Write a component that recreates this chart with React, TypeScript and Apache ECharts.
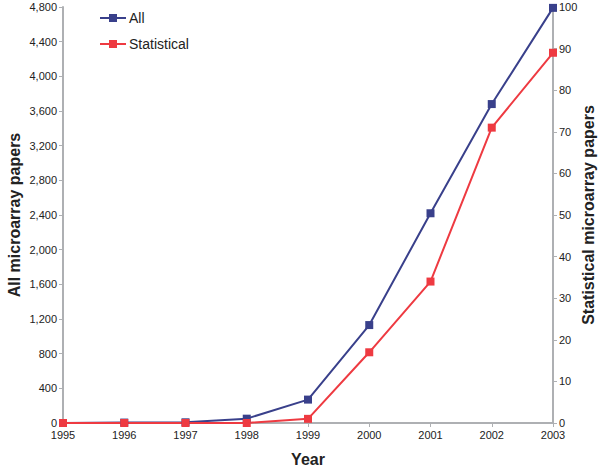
import React, { useEffect, useRef } from "react";
import * as echarts from "echarts";

const years = ["1995", "1996", "1997", "1998", "1999", "2000", "2001", "2002", "2003"];
const allPapers = [0, 5, 8, 50, 270, 1130, 2420, 3680, 4790];
const statPapers = [0, 0, 0, 0, 1, 17, 34, 71, 89];

const FONT = "Liberation Sans, Arial, Helvetica, sans-serif";
const AXIS_COLOR = "#aeb0b3";
const BLUE = "#39408b";
const RED = "#ee3a41";
const TEXT = "#222222";

export default function App() {
  const ref = useRef<HTMLDivElement>(null);
  useEffect(() => {
    if (!ref.current) return;
    const chart = echarts.init(ref.current, null, { renderer: "svg" });
    chart.setOption({
      animation: false,
      textStyle: { fontFamily: FONT },
      grid: {
        left: 63,
        right: 47,
        top: 7,
        bottom: 46,
        containLabel: false,
        outerBoundsMode: "none",
      },
      legend: {
        orient: "vertical",
        left: 94,
        top: 6,
        itemWidth: 26,
        itemHeight: 10,
        itemGap: 12,
        textStyle: { fontFamily: FONT, fontSize: 14, color: TEXT, padding: [0, 0, 0, -2] },
        data: ["All", "Statistical"],
      },
      xAxis: {
        type: "category",
        data: years,
        boundaryGap: false,
        name: "Year",
        nameLocation: "middle",
        nameGap: 28,
        nameMoveOverlap: false,
        nameTextStyle: { fontFamily: FONT, fontSize: 16, fontWeight: "bold", color: TEXT },
        axisLine: { lineStyle: { color: AXIS_COLOR, width: 2 } },
        axisTick: { show: true, length: 4, alignWithLabel: true, lineStyle: { color: AXIS_COLOR } },
        axisLabel: { fontFamily: FONT, fontSize: 11, color: TEXT, margin: 6 },
        splitLine: { show: false },
      },
      yAxis: [
        {
          type: "value",
          min: 0,
          max: 4800,
          interval: 400,
          name: "All microarray papers",
          nameLocation: "middle",
          nameGap: 41,
          nameMoveOverlap: false,
          nameTextStyle: { fontFamily: FONT, fontSize: 16, fontWeight: "bold", color: TEXT },
          axisLine: { show: true, lineStyle: { color: AXIS_COLOR, width: 2 } },
          axisTick: { show: true, length: 4, lineStyle: { color: AXIS_COLOR } },
          axisLabel: {
            fontFamily: FONT,
            fontSize: 11,
            color: TEXT,
            margin: 6,
            formatter: (v: number) => v.toLocaleString("en-US"),
          },
          splitLine: { show: false },
        },
        {
          type: "value",
          min: 0,
          max: 100,
          interval: 10,
          position: "right",
          name: "Statistical microarray papers",
          nameLocation: "middle",
          nameGap: 27,
          nameRotate: 90,
          nameMoveOverlap: false,
          nameTextStyle: { fontFamily: FONT, fontSize: 16, fontWeight: "bold", color: TEXT },
          axisLine: { show: true, lineStyle: { color: AXIS_COLOR, width: 2 } },
          axisTick: { show: true, length: 4, lineStyle: { color: AXIS_COLOR } },
          axisLabel: { fontFamily: FONT, fontSize: 11, color: TEXT, margin: 6 },
          splitLine: { show: false },
        },
      ],
      series: [
        {
          name: "All",
          type: "line",
          data: allPapers,
          yAxisIndex: 0,
          symbol: "rect",
          symbolSize: 8,
          lineStyle: { color: BLUE, width: 2 },
          itemStyle: { color: BLUE },
        },
        {
          name: "Statistical",
          type: "line",
          data: statPapers,
          yAxisIndex: 1,
          symbol: "rect",
          symbolSize: 8,
          lineStyle: { color: RED, width: 2 },
          itemStyle: { color: RED },
        },
      ],
    });
    return () => chart.dispose();
  }, []);
  return (
    <div
      ref={ref}
      style={{ position: "absolute", left: 0, top: 0, width: 600, height: 469 }}
    />
  );
}
